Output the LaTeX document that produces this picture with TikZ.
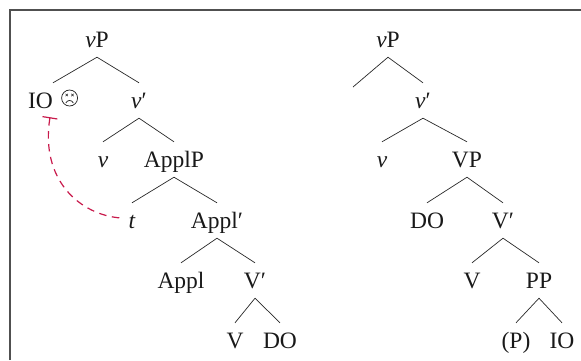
\documentclass[tikz,border=0pt]{standalone}
\usepackage{fontspec}
\setmainfont{Liberation Serif}
\usetikzlibrary{arrows.meta}
\definecolor{framegray}{RGB}{80,80,80}
\definecolor{treegray}{RGB}{40,40,40}
\definecolor{movered}{RGB}{200,25,75}
\begin{document}
\begin{tikzpicture}[x=1pt,y=-1pt,
  font=\fontsize{23.5}{28}\selectfont,
  lab/.style={anchor=base, inner sep=0pt, text height=25pt, text depth=10pt, text=black!90},
  branch/.style={draw=treegray, line width=0.7pt},
  frame/.style={draw=framegray, line width=1.6pt},
  facestroke/.style={draw=treegray, line width=0.75pt},
  move/.style={draw=movered, line width=1.2pt, dash pattern=on 7.5pt off 5.5pt}]
\useasboundingbox (0,0) rectangle (581,360);
\draw[frame] (10,360) -- (10,10) -- (581,10);

% left tree
\node[lab] (vP)   at (97,47)  {\textit{v}P};
\node[lab] (io)   at (53,108) {IO\hspace{8pt}\rule{17pt}{0pt}};
\node[lab] (v1)   at (139,108) {\textit{v}′};
\node[lab] (v)    at (103,167) {\textit{v}};
\node[lab] (ApplP) at (174,167) {ApplP};
\node[lab] (t)    at (132,228) {\textit{t}};
\node[lab] (Appl1) at (217,228) {Appl′};
\node[lab] (Appl) at (181,288) {Appl};
\node[lab] (V1)   at (255,288) {V′};
\node[lab] (V)    at (235,348) {V};
\node[lab] (DO)   at (280,348) {DO};

% sad face after IO
\coordinate (fc) at ([xshift=-8.5pt,yshift=10pt]io.base east);
\draw[facestroke] (fc) circle [radius=8pt];
\draw[facestroke,line width=0.55pt]
  ([shift={(-4pt,1.8pt)}]fc) -- ([shift={(-1.6pt,4.2pt)}]fc)
  ([shift={(-4pt,4.2pt)}]fc) -- ([shift={(-1.6pt,1.8pt)}]fc)
  ([shift={(1.6pt,1.8pt)}]fc) -- ([shift={(4pt,4.2pt)}]fc)
  ([shift={(1.6pt,4.2pt)}]fc) -- ([shift={(4pt,1.8pt)}]fc);
\draw[facestroke] ([shift={(-3.8pt,-5pt)}]fc) .. controls ([shift={(-2pt,-1.6pt)}]fc) and ([shift={(2pt,-1.6pt)}]fc) .. ([shift={(3.8pt,-5pt)}]fc);

\draw[branch] (vP.south) -- (io.north);
\draw[branch] (vP.south) -- (v1.north);
\draw[branch] (v1.south) -- (v.north);
\draw[branch] (v1.south) -- (ApplP.north);
\draw[branch] (ApplP.south) -- (t.north);
\draw[branch] (ApplP.south) -- (Appl1.north);
\draw[branch] (Appl1.south) -- (Appl.north);
\draw[branch] (Appl1.south) -- (V1.north);
\draw[branch] (V1.south) -- (V.north);
\draw[branch] (V1.south) -- (DO.north);

\coordinate (ioend) at ([xshift=-3pt,yshift=1pt]io.south);
\coordinate (tend) at ([xshift=-11pt,yshift=10pt]t.base);
\draw[move,{Bar[width=15pt]}-] (ioend) .. controls (40,180) and (80,215) .. (tend);

% right tree
\node[lab] (rvP)  at (388,47)  {\textit{v}P};
\coordinate (rempty) at (353,87);
\node[lab] (rv1)  at (423,108) {\textit{v}′};
\node[lab] (rv)   at (382,167) {\textit{v}};
\node[lab] (rVP)  at (467,167) {VP};
\node[lab] (rDO)  at (427,228) {DO};
\node[lab] (rV1)  at (503,228) {V′};
\node[lab] (rV)   at (472,288) {V};
\node[lab] (rPP)  at (539,288) {PP};
\node[lab] (rP)   at (516,348) {(P)};
\node[lab] (rIO)  at (562,348) {IO};

\draw[branch] (rvP.south) -- (rempty);
\draw[branch] (rvP.south) -- (rv1.north);
\draw[branch] (rv1.south) -- (rv.north);
\draw[branch] (rv1.south) -- (rVP.north);
\draw[branch] (rVP.south) -- (rDO.north);
\draw[branch] (rVP.south) -- (rV1.north);
\draw[branch] (rV1.south) -- (rV.north);
\draw[branch] (rV1.south) -- (rPP.north);
\draw[branch] (rPP.south) -- (rP.north);
\draw[branch] (rPP.south) -- (rIO.north);
\end{tikzpicture}
\end{document}
